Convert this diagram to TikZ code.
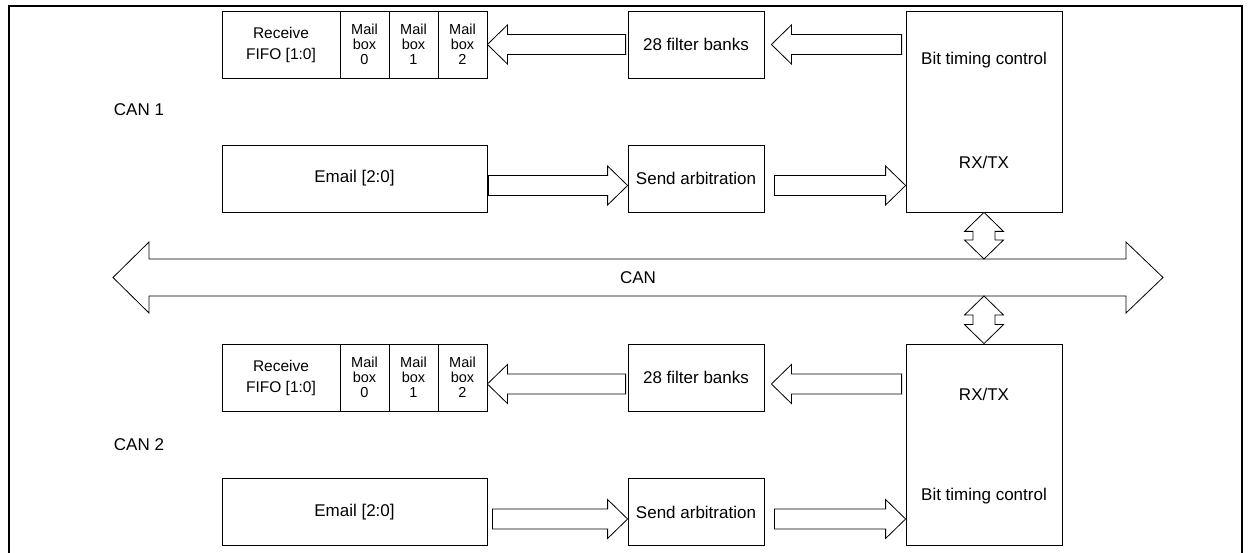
\documentclass[tikz,border=0pt]{standalone}
\usepackage{fontspec}
\setmainfont{Liberation Sans}
\usetikzlibrary{calc}
\tikzset{
 blk/.style={draw, line width=0.8pt, inner sep=0pt, align=center, font=\fontsize{17}{21}\selectfont},
 wide/.style={blk, minimum width=265pt, minimum height=67pt},
 mid/.style={blk, minimum width=136pt, minimum height=67pt},
 fifo/.style={blk, minimum width=118pt, minimum height=67pt, font=\fontsize{15.5}{21}\selectfont},
 mbox/.style={blk, minimum width=49pt, minimum height=67pt, font=\fontsize{14.5}{15}\selectfont},
 rxbox/.style={blk, minimum width=156pt, minimum height=201pt},
 fat/.style={draw, line width=0.8pt, fill=white, line join=miter},
 lbl/.style={inner sep=0pt, font=\fontsize{17}{20}\selectfont},
 frame/.style={line width=2pt}
}
\newcommand\fatH[2]{%
 \draw[fat] let \p1=(#1), \p2=(#2), \p3=($(\p2)!20pt!(\x1,\y2)$) in
 (\x1,\y2+10pt) -- (\x3,\y2+10pt) -- (\x3,\y2+19.5pt) -- (\p2) -- (\x3,\y2-19.5pt) -- (\x3,\y2-10pt) -- (\x1,\y2-10pt) -- cycle;}
\newcommand\fatV[2]{%
 \draw[fat] let \p1=(#1), \p2=(#2) in
 (\p1) -- (\x1+19.5pt,\y1-19pt) -- (\x1+11pt,\y1-19pt) -- (\x1+11pt,\y2+19pt) -- (\x1+19.5pt,\y2+19pt) -- (\x1,\y2)
 -- (\x1-19.5pt,\y2+19pt) -- (\x1-11pt,\y2+19pt) -- (\x1-11pt,\y1-19pt) -- (\x1-19.5pt,\y1-19pt) -- cycle;}
\begin{document}
\begin{tikzpicture}[x=1pt,y=-1pt]
\useasboundingbox (0,0) rectangle (1248,553);
\draw[frame] (9,553) -- (9,6) -- (1242,6) -- (1242,553);

% ---------- CAN 1 ----------
\node[fifo] (rf1) at (281,44.5) {Receive\\FIFO [1:0]};
\node[mbox] (mb10) at (364.5,44.5) {Mail\\box\\0};
\node[mbox] (mb11) at (413.5,44.5) {Mail\\box\\1};
\node[mbox] (mb12) at (462.5,44.5) {Mail\\box\\2};
\node[mid] (fb1) at (696,44.5) {28 filter banks};
\node[rxbox] (rx1) at (984,111.5) {};
\node[lbl] (bt1) at ($(rx1.north)+(0,50)$) {Bit timing control};
\node[lbl] (rt1) at ($(rx1.north)+(0,152)$) {RX/TX};
\node[wide] (em1) at (354.5,178.5) {Email [2:0]};
\node[mid] (sa1) at (696,178.5) {Send arbitration};
\node[lbl] (can1) at (139,110) {CAN 1};

\coordinate (a1s) at ($(fb1.west)+(-2,0)$);
\coordinate (a1e) at (mb12.east);
\coordinate (a2s) at ($(rx1.west |- fb1.west)+(-4,0)$);
\coordinate (a2e) at ($(fb1.east)+(7,0)$);
\coordinate (a3s) at ($(em1.east)+(1,7)$);
\coordinate (a3e) at ($(sa1.west)+(0,7)$);
\coordinate (a4s) at ($(sa1.east)+(10,7)$);
\coordinate (a4e) at ($(rx1.west |- sa1.west)+(0,7)$);
\fatH{a1s}{a1e}
\fatH{a2s}{a2e}
\fatH{a3s}{a3e}
\fatH{a4s}{a4e}

% ---------- CAN bus ----------
\coordinate (canL) at (113,277.5);
\coordinate (canR) at (1163,277.5);
\draw[fat] let \p1=(canL), \p2=(canR) in
 (\p1) -- (\x1+36pt,\y1+35.5pt) -- (\x1+36pt,\y1+18.5pt) -- (\x2-37pt,\y1+18.5pt) -- (\x2-37pt,\y1+35.5pt) -- (\p2)
 -- (\x2-37pt,\y1-35.5pt) -- (\x2-37pt,\y1-18.5pt) -- (\x1+36pt,\y1-18.5pt) -- (\x1+36pt,\y1-35.5pt) -- cycle;
\node[lbl] (can) at (638,277.5) {CAN};
\coordinate (busT) at (984,259);
\coordinate (busB) at (984,296);

% ---------- CAN 2 ----------
\node[fifo] (rf2) at (281,377.5) {Receive\\FIFO [1:0]};
\node[mbox] (mb20) at (364.5,377.5) {Mail\\box\\0};
\node[mbox] (mb21) at (413.5,377.5) {Mail\\box\\1};
\node[mbox] (mb22) at (462.5,377.5) {Mail\\box\\2};
\node[mid] (fb2) at (696,377.5) {28 filter banks};
\node[rxbox] (rx2) at (984,444.5) {};
\node[lbl] (rt2) at ($(rx2.north)+(0,51)$) {RX/TX};
\node[lbl] (bt2) at ($(rx2.north)+(0,153)$) {Bit timing control};
\node[wide] (em2) at (354.5,512) {Email [2:0]};
\node[mid] (sa2) at (696,512) {Send arbitration};
\node[lbl] (can2) at (139,445) {CAN 2};

\coordinate (b1s) at ($(fb2.west)+(-2,6.5)$);
\coordinate (b1e) at ($(mb22.east)+(0,6.5)$);
\coordinate (b2s) at ($(rx2.west |- fb2.west)+(-4,6.5)$);
\coordinate (b2e) at ($(fb2.east)+(7,6.5)$);
\coordinate (b3s) at ($(em2.east)+(5,7)$);
\coordinate (b3e) at ($(sa2.west)+(0,7)$);
\coordinate (b4s) at ($(sa2.east)+(10,7)$);
\coordinate (b4e) at ($(rx2.west |- sa2.west)+(0,7)$);
\fatH{b1s}{b1e}
\fatH{b2s}{b2e}
\fatH{b3s}{b3e}
\fatH{b4s}{b4e}

% ---------- bus links ----------
\fatV{rx1.south}{busT}
\fatV{busB}{rx2.north}
\end{tikzpicture}
\end{document}
